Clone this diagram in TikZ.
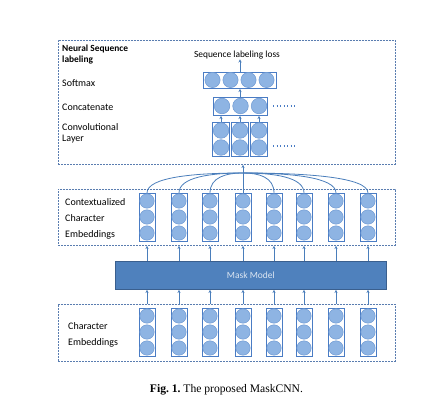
\documentclass[tikz,border=0pt]{standalone}
\usepackage{fontspec}
\setmainfont{Liberation Serif}
\newfontfamily\calfont{Carlito}
\usetikzlibrary{arrows.meta}
\frenchspacing
\definecolor{cfill}{HTML}{8EB4E3}
\definecolor{ccirc}{HTML}{6F9AD3}
\definecolor{cline}{HTML}{4A7CC4}
\definecolor{dline}{HTML}{5A7DB0}
\definecolor{aline}{HTML}{4A7EBB}
\definecolor{mfill}{HTML}{4F81BD}
\definecolor{mline}{HTML}{3A5F8E}
\definecolor{mtext}{HTML}{DCE6F2}
\tikzset{
  group/.style={draw=dline, dash pattern=on 2pt off 1pt, line width=0.8pt},
  colbox/.style={draw=cline, line width=0.9pt, inner sep=0pt, minimum width=16pt, minimum height=#1},
  circ/.style={fill=cfill, draw=ccirc, line width=0.5pt},
  arr/.style={draw=aline, line width=0.8pt, -{Stealth[length=3.2pt,width=3.2pt]}},
  curve/.style={draw=aline, line width=0.8pt},
  lbl/.style={font=\calfont\fontsize{10}{11.5}\selectfont, anchor=west, inner sep=0pt, text=black},
  dots/.style={draw=cline, line width=1.2pt, dash pattern=on 1.3pt off 2.2pt},
}
\begin{document}
\begin{tikzpicture}[x=1pt,y=-1pt]
\useasboundingbox (0,0) rectangle (444,414);
% group boxes
\node[group, minimum width=337pt, minimum height=124pt, inner sep=0, anchor=north west] (top) at (58,40) {};
\node[group, minimum width=337pt, minimum height=56pt, inner sep=0, anchor=north west] (ctx) at (58,189) {};
\node[group, minimum width=337pt, minimum height=57pt, inner sep=0, anchor=north west] (bot) at (58,304) {};
% mask model
\node[draw=mline, fill=mfill, line width=0.8pt, minimum width=271pt, minimum height=28pt, inner sep=0, anchor=north west,
      text=mtext, font=\calfont\fontsize{9.5}{11}\selectfont] (mask) at (115,261) {Mask Model};
% labels
\node[lbl, font=\calfont\bfseries\fontsize{9.4}{10.5}\selectfont, align=left, anchor=north west] (lnsl) at (62,45) {Neural Sequence\\labeling};
\node[lbl] (lsoft) at (62,83) {Softmax};
\node[lbl] (lconc) at (62,107) {Concatenate};
\node[lbl, align=left] (lconv) at (62,133.5) {Convolutional\\Layer};
\node[lbl, align=left] (lctx) at (65,219) {Contextualized\\[4.5pt]Character\\[4.5pt]Embeddings};
\node[lbl, align=left] (lemb) at (68,334.5) {Character\\[4.5pt]Embeddings};
\node[font=\calfont\fontsize{9.4}{10}\selectfont, inner sep=0pt] (loss) at (237,55) {Sequence labeling loss};
% columns
\foreach \x [count=\i] in {147,179,210,243,274,304,336,368} {
  \node[colbox=48pt, anchor=north] (c\i) at (\x,193) {};
  \foreach \k in {0,1,2} \draw[circ] (\x,201+16*\k) circle (7.2pt);
  \node[colbox=48pt, anchor=north] (e\i) at (\x,308) {};
  \foreach \k in {0,1,2} \draw[circ] (\x,316+16*\k) circle (7.2pt);
  \draw[arr] (e\i |- bot.north) -- (e\i |- mask.south);
  \draw[arr] (c\i |- mask.north) -- (c\i |- ctx.south);
}
% softmax
\node[colbox=16pt, minimum width=73pt, anchor=north west] (soft) at (203,72) {};
\foreach \k in {0,1,2,3} \draw[circ] (212.5+18*\k,80) circle (7.6pt);
% concat
\node[colbox=18pt, minimum width=54pt, anchor=north west] (conc) at (213,97) {};
\foreach \k in {0,1,2} \draw[circ] (222+18.5*\k,106) circle (7.8pt);
% conv columns
\foreach \x [count=\i] in {221,240,259} {
  \node[colbox=34pt, minimum width=16.5pt, anchor=north] (v\i) at (\x,122) {};
  \foreach \k in {0,1} \draw[circ] (\x,130.5+17*\k) circle (7.8pt);
  \draw[arr] (v\i.north) -- (v\i |- conc.south);
}
\coordinate (d1a) at (273,106);
\coordinate (d1b) at (297,106);
\draw[dots] (d1a) -- (d1b);
\coordinate (d2a) at (273,146);
\coordinate (d2b) at (297,146);
\draw[dots] (d2a) -- (d2b);
\draw[arr] (conc.north -| v2) -- (v2 |- soft.south);
\draw[arr] (soft.north -| v2) -- (v2 |- loss.south);
% curves to top
\coordinate (hub) at (243,173);
\foreach \x [count=\i] in {147,179,210} \draw[curve] (c\i.north) .. controls (\x,177) and ({(\x+243)/2},173) .. (hub);
\foreach \x [count=\j from 5] in {274,304,336,368} \draw[curve] (c\j.north) .. controls (\x,177) and ({(\x+243)/2},173) .. (hub);
\draw[arr] (c4.north) -- (c4 |- top.south);
% caption
\node[font=\fontsize{11.6}{13}\selectfont, inner sep=0pt] (cap) at (226.5,390) {\textbf{Fig. 1.} The proposed MaskCNN.};
\end{tikzpicture}
\end{document}
